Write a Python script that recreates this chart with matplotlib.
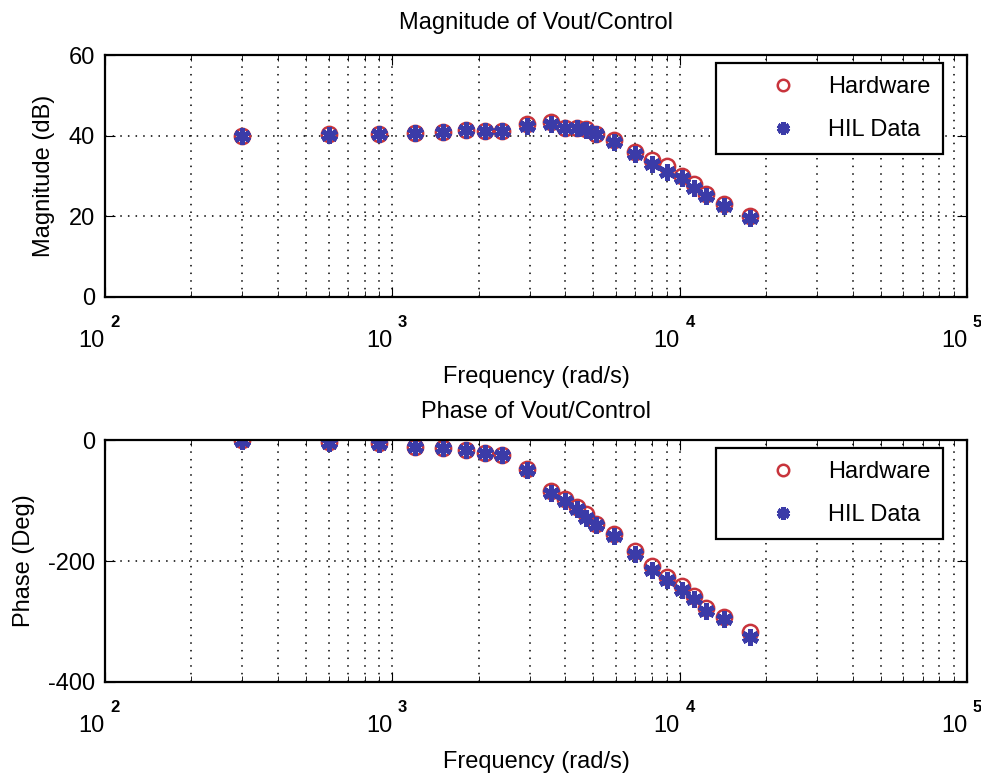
import matplotlib.pyplot as plt
import numpy as np

plt.rcParams['font.family'] = ['Liberation Sans', 'DejaVu Sans']

# measured frequencies (rad/s)
freq = [300, 600, 900, 1200, 1500, 1800, 2100, 2400, 2950, 3550, 4000, 4400,
        4700, 5100, 5900, 7000, 8000, 9000, 10200, 11200, 12300, 14200, 17500]

mag_hw = [40, 40.3, 40.5, 40.7, 40.8, 41.5, 41.2, 41.2, 43, 43.5, 42, 42,
          41.7, 40.5, 39, 36, 34, 32.5, 30, 28, 25.5, 23, 20]
mag_hil = [40, 40.2, 40.3, 40.7, 40.8, 41.3, 41.2, 41.2, 42.5, 43, 42, 41.8,
           41.5, 40.3, 38.5, 35.5, 33, 31, 29.5, 27, 25, 22.5, 19.5]

ph_hw = [0, -3, -5, -11, -13, -17, -21, -24, -48, -84, -98, -110,
         -122, -138, -155, -183, -208, -226, -242, -258, -278, -292, -318]
ph_hil = [-1, -4, -6, -11, -13, -17, -21, -24, -49, -88, -100, -114,
          -128, -141, -159, -188, -214, -232, -248, -262, -283, -296, -325]

decades = [2, 3, 4, 5]

red = '#c8343c'
blue = '#3b3ba8'
fs = 17

fig = plt.figure(figsize=(9.81, 7.75), dpi=100)
ax1 = fig.add_axes([0.107, 0.617, 0.879, 0.312])
ax2 = fig.add_axes([0.107, 0.120, 0.879, 0.312])


def style(ax, yticks, ylim, ylabel, title, ylab_x, title_pad):
    ax.set_xscale('log')
    ax.set_xlim(1e2, 1e5)
    ax.set_ylim(*ylim)
    ax.set_yticks(yticks)
    ax.set_yticklabels([str(v) for v in yticks])
    ax.set_xticks([10.0 ** d for d in decades])
    ax.set_xticklabels(['10'] * len(decades), ha='right')
    # MATLAB-style exponent sitting up and to the right of the "10"
    for d in decades:
        ax.annotate(str(d), xy=(10.0 ** d, 0), xycoords=('data', 'axes fraction'),
                    xytext=(4, -13), textcoords='offset points',
                    ha='left', va='top', fontsize=12, fontweight='bold')
    ax.grid(True, which='major', color='black', linewidth=1.1, linestyle=(0, (1, 4)))
    ax.grid(True, which='minor', axis='x', color='black', linewidth=1.1, linestyle=(0, (1, 4)))
    ax.tick_params(which='both', direction='in', top=True, right=True, labelsize=fs)
    ax.tick_params(which='major', length=7)
    ax.tick_params(which='minor', length=4)
    ax.tick_params(axis='x', which='major', pad=24)
    ax.tick_params(axis='y', pad=7)
    for s in ax.spines.values():
        s.set_linewidth(1.6)
    ax.set_xlabel('Frequency (rad/s)', fontsize=fs)
    ax.xaxis.set_label_coords(0.5, -0.285)
    ax.set_ylabel(ylabel, fontsize=fs)
    ax.yaxis.set_label_coords(ylab_x, 0.5)
    ax.set_title(title, fontsize=fs, pad=title_pad)


ax1.plot(freq, mag_hw, 'o', mfc='none', mec=red, ms=11, mew=1.8, label='Hardware')
ax1.plot(freq, mag_hil, marker=(6, 2, 0), ls='none', color=blue, ms=12, mew=3.5, label='HIL Data')
style(ax1, [0, 20, 40, 60], (0, 60), 'Magnitude (dB)', 'Magnitude of Vout/Control', -0.058, 19)

ax2.plot(freq, ph_hw, 'o', mfc='none', mec=red, ms=11, mew=1.8, label='Hardware')
ax2.plot(freq, ph_hil, marker=(6, 2, 0), ls='none', color=blue, ms=12, mew=3.5, label='HIL Data')
style(ax2, [-400, -200, 0], (-400, 0), 'Phase (Deg)', 'Phase of Vout/Control', -0.081, 16)

for ax in (ax1, ax2):
    leg = ax.legend(loc='upper right', bbox_to_anchor=(0.972, 0.967), borderaxespad=0,
                    fontsize=fs, fancybox=False, edgecolor='black', framealpha=1,
                    borderpad=0.55, labelspacing=0.9, handlelength=4.6,
                    handletextpad=-0.4, markerscale=0.75)
    leg.get_frame().set_linewidth(1.6)

fig.savefig('out.png', dpi=100)
